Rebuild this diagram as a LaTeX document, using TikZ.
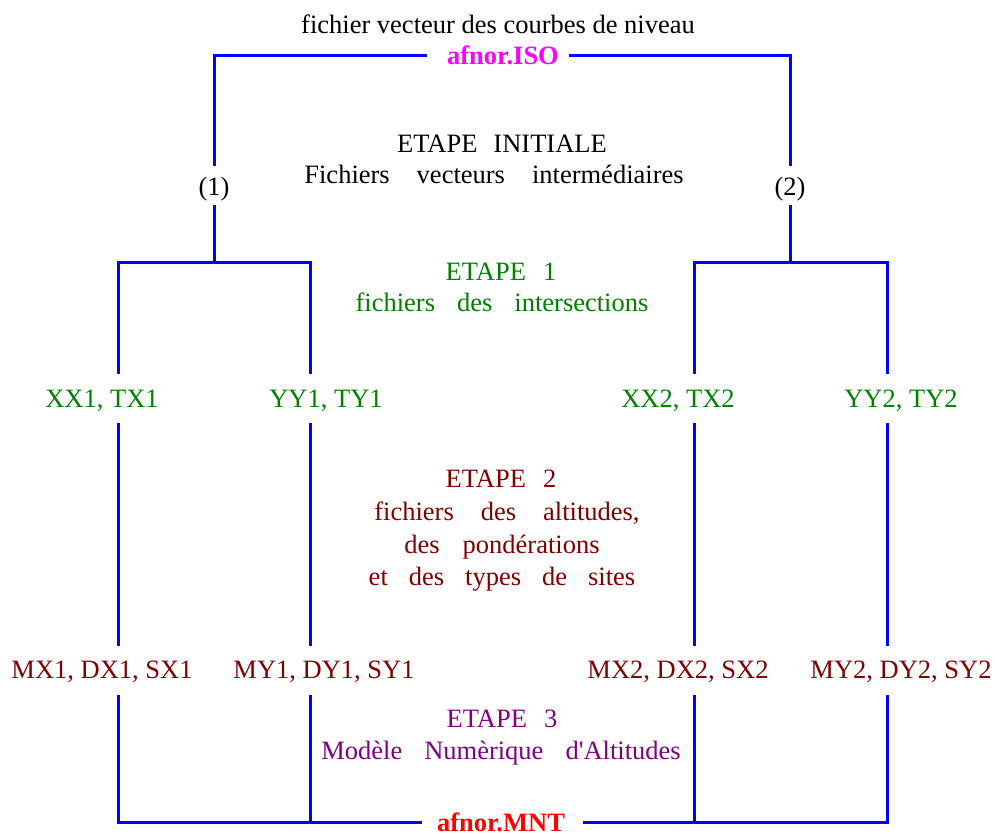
\documentclass[tikz,border=0pt]{standalone}
\usepackage{fontspec}
\setmainfont{Liberation Serif}
\definecolor{lineblue}{RGB}{0,0,255}
\definecolor{isomag}{RGB}{255,0,255}
\definecolor{stepgreen}{RGB}{0,128,0}
\definecolor{stepred}{RGB}{128,0,0}
\definecolor{steppurple}{RGB}{128,0,128}
\definecolor{mntred}{RGB}{255,0,0}
\begin{document}
\begin{tikzpicture}[x=1pt,y=-1pt,
  conn/.style={draw=lineblue,line width=3pt,line join=miter},
  txt/.style={anchor=base,inner sep=0pt,font=\fontsize{26.5}{30}\selectfont},
  bold/.style={txt,font=\fontsize{26.5}{30}\selectfont\bfseries}]
\useasboundingbox (0,0) rectangle (996,833);

% texts
\node[txt] (title) at (498,33) {fichier vecteur des courbes de niveau};
\node[bold,text=isomag] (iso) at (503,64) {afnor.ISO};
\node[txt] (e0a) at (502,152) {\spaceskip=16pt ETAPE INITIALE};
\node[txt] (e0b) at (494,183) {\spaceskip=27pt Fichiers vecteurs intermédiaires};
\node[txt] (p1) at (214,195) {(1)};
\node[txt] (p2) at (790,195) {(2)};
\node[txt,text=stepgreen] (e1a) at (501,280) {\spaceskip=17pt ETAPE 1};
\node[txt,text=stepgreen] (e1b) at (502,311) {\spaceskip=22pt fichiers des intersections};
\node[txt,text=stepgreen] (xx1) at (102,407) {XX1, TX1};
\node[txt,text=stepgreen] (yy1) at (326,407) {YY1, TY1};
\node[txt,text=stepgreen] (xx2) at (678,407) {XX2, TX2};
\node[txt,text=stepgreen] (yy2) at (901,407) {YY2, TY2};
\node[txt,text=stepred] (e2a) at (501,487) {\spaceskip=17pt ETAPE 2};
\node[txt,text=stepred] (e2b) at (507,520) {\spaceskip=27pt fichiers des altitudes,};
\node[txt,text=stepred] (e2c) at (502,553) {\spaceskip=23pt des pondérations};
\node[txt,text=stepred] (e2d) at (502,585) {\spaceskip=21pt et des types de sites};
\node[txt,text=stepred] (mx1) at (102,678) {MX1, DX1, SX1};
\node[txt,text=stepred] (my1) at (324,678) {MY1, DY1, SY1};
\node[txt,text=stepred] (mx2) at (678,678) {MX2, DX2, SX2};
\node[txt,text=stepred] (my2) at (901,678) {MY2, DY2, SY2};
\node[txt,text=steppurple] (e3a) at (502,727) {\spaceskip=17pt ETAPE 3};
\node[txt,text=steppurple] (e3b) at (501,759) {\spaceskip=22pt Modèle Numèrique d\textquotesingle Altitudes};
\node[bold,text=mntred] (mnt) at (501,831) {afnor.MNT};

% coordinates
\coordinate (isoL) at (427,55);
\coordinate (isoR) at (569,55);
\coordinate (tl) at (214,55);
\coordinate (tr) at (790,55);
\coordinate (p1t) at (214,166);
\coordinate (p1b) at (214,205);
\coordinate (p2t) at (790,166);
\coordinate (p2b) at (790,205);
\coordinate (j1) at (214,262);
\coordinate (j2) at (790,262);
\foreach \n/\x in {a/118,b/310,c/694,d/887}{
  \coordinate (\n0) at (\x,262);
  \coordinate (\n1) at (\x,374);
  \coordinate (\n2) at (\x,423);
  \coordinate (\n3) at (\x,646);
  \coordinate (\n4) at (\x,695);
  \coordinate (\n5) at (\x,822);
}
\coordinate (mntL) at (422,822);
\coordinate (mntR) at (583,822);

% connectors
\draw[conn] (isoL) -- (tl) -- (p1t);
\draw[conn] (isoR) -- (tr) -- (p2t);
\draw[conn] (p1b) -- (j1);
\draw[conn] (p2b) -- (j2);
\draw[conn] (a1) -- (a0) -- (b0) -- (b1);
\draw[conn] (c1) -- (c0) -- (d0) -- (d1);
\foreach \n in {a,b,c,d}{
  \draw[conn] (\n2) -- (\n3);
}
\draw[conn] (a4) -- (a5) -- (mntL);
\draw[conn] (b4) -- (b5);
\draw[conn] (mntR) -- (d5) -- (d4);
\draw[conn] (c4) -- (c5);
\end{tikzpicture}
\end{document}
